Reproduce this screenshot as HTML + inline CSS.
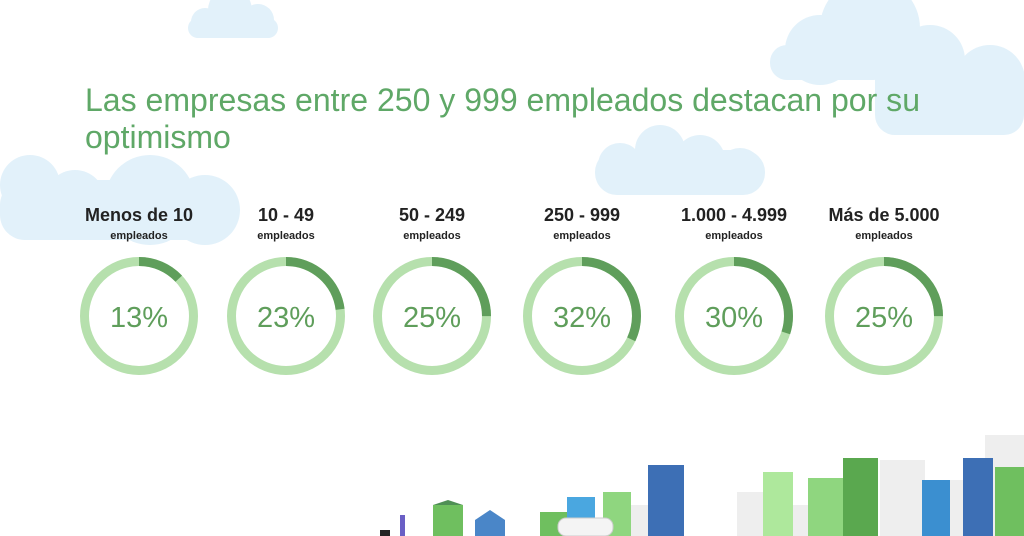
<!DOCTYPE html>
<html><head><meta charset="utf-8"><style>
html,body{margin:0;padding:0;background:#fff;}
svg{display:block;}
</style></head><body>
<svg width="1024" height="536" viewBox="0 0 1024 536" xmlns="http://www.w3.org/2000/svg" font-family="Liberation Sans, Arial, sans-serif">
<g fill="#e2f1fa">
 <rect x="188" y="18" width="90" height="20" rx="10"/>
 <circle cx="230" cy="10" r="22"/><circle cx="258" cy="20" r="16"/><circle cx="205" cy="22" r="14"/>
 <rect x="770" y="45" width="120" height="35" rx="17"/>
 <circle cx="870" cy="28" r="50"/><circle cx="820" cy="50" r="35"/><circle cx="930" cy="60" r="35"/>
 <rect x="875" y="60" width="149" height="75" rx="20"/>
 <circle cx="990" cy="80" r="35"/>
 <rect x="595" y="150" width="170" height="45" rx="22"/>
 <circle cx="660" cy="150" r="25"/><circle cx="700" cy="160" r="25"/><circle cx="620" cy="165" r="22"/><circle cx="740" cy="170" r="22"/>
 <rect x="0" y="180" width="230" height="60" rx="25"/>
 <circle cx="30" cy="185" r="30"/><circle cx="75" cy="200" r="30"/><circle cx="150" cy="200" r="45"/><circle cx="205" cy="210" r="35"/>
</g>
<text x="85" y="111" font-size="32" fill="#5fa867" textLength="835" lengthAdjust="spacingAndGlyphs">Las empresas entre 250 y 999 empleados destacan por su</text>
<text x="85" y="148" font-size="32" fill="#5fa867">optimismo</text>

<g font-weight="bold" fill="#222" text-anchor="middle">
 <text x="139" y="221" font-size="18">Menos de 10</text>
 <text x="286" y="221" font-size="18">10 - 49</text>
 <text x="432" y="221" font-size="18">50 - 249</text>
 <text x="582" y="221" font-size="18">250 - 999</text>
 <text x="734" y="221" font-size="18">1.000 - 4.999</text>
 <text x="884" y="221" font-size="18">Más de 5.000</text>
 <g font-size="11">
 <text x="139" y="239">empleados</text><text x="286" y="239">empleados</text><text x="432" y="239">empleados</text>
 <text x="582" y="239">empleados</text><text x="734" y="239">empleados</text><text x="884" y="239">empleados</text>
 </g>
</g>

<g fill="none" stroke-width="9">
 <g stroke="#b6e0ad">
  <circle cx="139" cy="316" r="54.5"/><circle cx="286" cy="316" r="54.5"/><circle cx="432" cy="316" r="54.5"/>
  <circle cx="582" cy="316" r="54.5"/><circle cx="734" cy="316" r="54.5"/><circle cx="884" cy="316" r="54.5"/>
 </g>
 <g stroke="#5f9e5b">
  <circle cx="139" cy="316" r="54.5" stroke-dasharray="44.5 400" transform="rotate(-90 139 316)"/>
  <circle cx="286" cy="316" r="54.5" stroke-dasharray="78.8 400" transform="rotate(-90 286 316)"/>
  <circle cx="432" cy="316" r="54.5" stroke-dasharray="85.6 400" transform="rotate(-90 432 316)"/>
  <circle cx="582" cy="316" r="54.5" stroke-dasharray="109.6 400" transform="rotate(-90 582 316)"/>
  <circle cx="734" cy="316" r="54.5" stroke-dasharray="102.7 400" transform="rotate(-90 734 316)"/>
  <circle cx="884" cy="316" r="54.5" stroke-dasharray="85.6 400" transform="rotate(-90 884 316)"/>
 </g>
</g>
<g font-size="29" fill="#5f9e5b" text-anchor="middle">
 <text x="139" y="327">13%</text><text x="286" y="327">23%</text><text x="432" y="327">25%</text>
 <text x="582" y="327">32%</text><text x="734" y="327">30%</text><text x="884" y="327">25%</text>
</g>

<g fill="#eeeeee">
 <rect x="628" y="505" width="28" height="31"/>
 <rect x="737" y="492" width="30" height="44"/>
 <rect x="770" y="505" width="40" height="31"/>
 <rect x="880" y="460" width="45" height="76"/>
 <rect x="985" y="435" width="39" height="101"/>
 <rect x="945" y="480" width="30" height="56"/>
</g>
<rect x="433" y="505" width="30" height="31" fill="#6fbf5f"/>
<polygon points="433,505 448,500 463,505" fill="#4f8f55"/>
<polygon points="475,536 475,520 490,510 505,520 505,536" fill="#4a86c8"/>
<rect x="540" y="512" width="30" height="24" fill="#6fbf5f"/>
<rect x="567" y="497" width="28" height="39" fill="#4aa7e0"/>
<rect x="603" y="492" width="28" height="44" fill="#8fd67f"/>
<rect x="558" y="518" width="55" height="18" rx="8" fill="#f4f4f4" stroke="#ccc"/>
<rect x="648" y="465" width="36" height="71" fill="#3d6fb5"/>
<rect x="763" y="472" width="30" height="64" fill="#aee89c"/>
<rect x="808" y="478" width="40" height="58" fill="#8fd67f"/>
<rect x="843" y="458" width="35" height="78" fill="#5aa84f"/>
<rect x="922" y="480" width="28" height="56" fill="#3b8fd0"/>
<rect x="963" y="458" width="30" height="78" fill="#3d6fb5"/>
<rect x="995" y="467" width="29" height="69" fill="#6fbf5f"/>
<rect x="400" y="515" width="5" height="21" fill="#6a5fc5"/>
<rect x="380" y="530" width="10" height="6" fill="#222"/>
</svg>
</body></html>
